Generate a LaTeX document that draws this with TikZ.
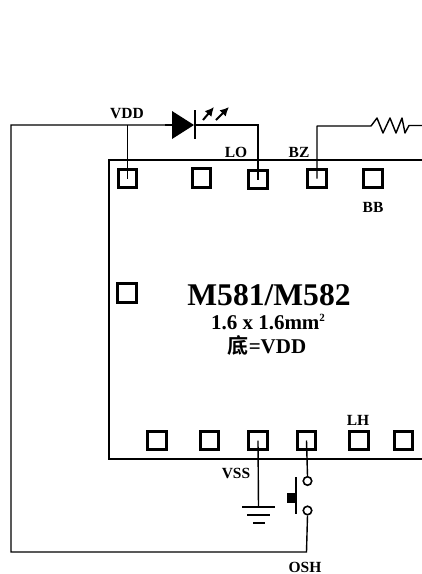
\documentclass[tikz,border=0pt]{standalone}
\usetikzlibrary{arrows.meta}
\usepackage{fontspec}
\setmainfont{Liberation Serif}
\newfontfamily\cjk{Noto Sans CJK SC}[BoldFont={Noto Sans CJK SC Bold}]
\begin{document}
\begin{tikzpicture}[x=1pt,y=-1pt,
  pad/.style={draw=black,line width=2.6pt,fill=white,minimum width=18.5pt,minimum height=18.5pt,inner sep=0pt,outer sep=0pt},
  wire/.style={draw=black,line width=1.4pt},
  term/.style={circle,draw=black,line width=1.6pt,fill=white,minimum size=8.5pt,inner sep=0pt},
  led/.style={-{Latex[length=9pt,width=9pt]},line width=2pt},
  lab/.style={font=\bfseries\fontsize{15.5}{16}\selectfont,inner sep=0pt,anchor=base}]
\useasboundingbox (0,0) rectangle (422,574);
% chip outline
\draw[line width=2.2pt] (422,160) -- (109,160) -- (109,459) -- (422,459);
% pads
\node[pad] (p1) at (127.5,178.5) {};
\node[pad] (p2) at (201.5,178) {};
\node[pad] (p3) at (258,179.5) {};
\node[pad] (p4) at (317,178.5) {};
\node[pad] (p5) at (373,178.5) {};
\node[pad] (p6) at (127,293) {};
\node[pad] (b1) at (157,440.5) {};
\node[pad] (b2) at (209.5,440.5) {};
\node[pad] (b3) at (258,440.5) {};
\node[pad] (b4) at (306.5,440.5) {};
\node[pad] (b5) at (359,440.5) {};
\node[pad] (b6) at (403.5,440.5) {};
% diode
\coordinate (dl) at (172,125);
\coordinate (dr) at (195,125);
\fill (172,111) -- (194,125) -- (172,139) -- cycle;
\draw[line width=1.6pt] (195,110) -- (195,139);
\draw[led] (203,120) -- (214,107);
\draw[led] (216,120) -- (229,107);
% switch terminals
\node[term] (su) at (307.5,481) {};
\node[term] (sd) at (307.5,510.5) {};
% wires
\coordinate (tl) at (11,125);
\coordinate (bl) at (11,552);
\path[wire] (p1.center) -- (127.5,125);
\path[wire] (dl) -- (tl) -- (bl) -- (306.5,552) -- (sd.south);
\path[wire] (dr) -- (258,125) -- (p3.center);
\draw[line width=1.9pt] (dr) -- (232,125);
\draw[line width=1.9pt] (165,125) -- (dl);
\coordinate (r0) at (371,126);
\path[wire,line join=round] (p4.center) -- (317,126) -- (r0) -- (377,118) -- (383,133) -- (390,118) -- (396,133) -- (402,118) -- (405,133) -- (409,125.5) -- (422,125.5);
\path[wire] (b4.center) -- (su.north);
% ground
\coordinate (g) at (258.5,507);
\path[wire] (b3.center) -- (g);
\draw[line width=1.6pt] (242,507) -- (275,507) (247,515) -- (270,515) (253,523) -- (265,523);
% switch
\draw[line width=1.8pt] (296,477) -- (296,514);
\fill (287,493) rectangle (296,503);
% labels
\node[lab] (tvdd) at (127,118) {VDD};
\node[lab] (tlo) at (236,157) {LO};
\node[lab] (tbz) at (299,157) {BZ};
\node[lab] (tbb) at (373,212) {BB};
\node[lab] (tlh) at (358,425) {LH};
\node[lab] (tvss) at (236,478) {VSS};
\node[lab] (tosh) at (305,572) {OSH};
\node[inner sep=0pt,anchor=base,font=\bfseries\fontsize{31.6}{32}\selectfont] (t1) at (269,305) {M581/M582};
\node[inner sep=0pt,anchor=base,font=\bfseries\fontsize{21}{22}\selectfont] (t2) at (268,329.5) {1.6 x 1.6mm\raisebox{8pt}{\fontsize{11}{12}\selectfont 2}};
\node[inner sep=0pt,anchor=base,font=\bfseries\fontsize{21}{22}\selectfont] (t3) at (267,353) {{\cjk 底}=VDD};
\end{tikzpicture}
\end{document}
